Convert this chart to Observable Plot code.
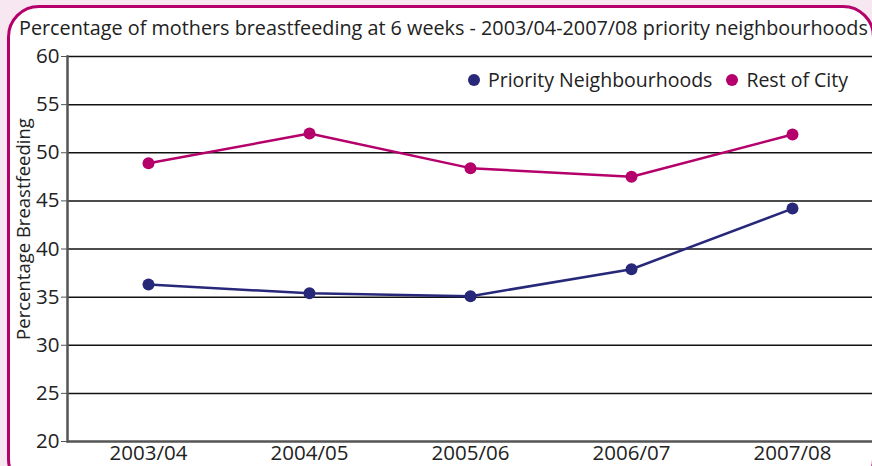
<!DOCTYPE html>
<html>
<head>
<meta charset="utf-8">
<script src="https://cdn.jsdelivr.net/npm/d3@7"></script>
<script src="https://cdn.jsdelivr.net/npm/@observablehq/plot@0.6"></script>
<style>
  html, body { margin: 0; padding: 0; }
  body { width: 872px; height: 466px; overflow: hidden; background: #f6e7f0; position: relative; font-family: "Open Sans", sans-serif; color: #222; }
  #frame { position: absolute; left: 7px; top: 5px; width: 862px; height: 480px; border: 3px solid #b5006b; border-radius: 32px; background: #fff; }
  #title { position: absolute; left: 19px; top: 14px; font-size: 19.8px; white-space: nowrap; color: #222; }
  #chart { position: absolute; left: 0; top: 0; }
  #legend { position: absolute; left: 468px; top: 66px; font-size: 19.5px; white-space: nowrap; display: flex; align-items: center; }
  .sw { display: inline-block; width: 12px; height: 12px; border-radius: 50%; margin-right: 8px; }
  .item { display: flex; align-items: center; margin-right: 14px; }
</style>
</head>
<body>
<div id="frame"></div>
<div id="title"></div>
<div id="chart"></div>
<div id="legend"></div>
<script>
const titleText = "Percentage of mothers breastfeeding at 6 weeks - 2003/04-2007/08 priority neighbourhoods";
const yLabel = "Percentage Breastfeeding";
const years = ["2003/04", "2004/05", "2005/06", "2006/07", "2007/08"];
const priority = [36.3, 35.4, 35.1, 37.9, 44.2];
const restOfCity = [48.9, 52.0, 48.4, 47.5, 51.9];
const seriesNames = ["Priority Neighbourhoods", "Rest of City"];
const seriesColors = ["#28287a", "#b5006b"];
const yTicks = [20, 25, 30, 35, 40, 45, 50, 55, 60];

const data = [
  ...years.map((y, i) => ({year: y, value: priority[i], series: seriesNames[0]})),
  ...years.map((y, i) => ({year: y, value: restOfCity[i], series: seriesNames[1]}))
];

document.getElementById("title").textContent = titleText;

const legend = document.getElementById("legend");
seriesNames.forEach((n, i) => {
  const it = document.createElement("span");
  it.className = "item";
  const sw = document.createElement("span");
  sw.className = "sw";
  sw.style.background = seriesColors[i];
  it.appendChild(sw);
  it.appendChild(document.createTextNode(n));
  legend.appendChild(it);
});

const chart = Plot.plot({
  width: 872,
  height: 466,
  marginLeft: 67,
  marginRight: 0,
  marginTop: 56,
  marginBottom: 25,
  style: {background: "transparent", fontFamily: "Open Sans, sans-serif", color: "#222", fontSize: "20px"},
  x: {type: "point", domain: years, padding: 0.5, label: null},
  y: {domain: [20, 60], label: null},
  color: {domain: seriesNames, range: seriesColors},
  marks: [
    Plot.ruleY(yTicks.filter(t => t > 20), {stroke: "#111", strokeWidth: 1.5}),
    Plot.ruleY([20], {stroke: "#555", strokeWidth: 2.5}),
    Plot.frame({anchor: "left", stroke: "#555", strokeWidth: 2.5}),
    Plot.axisY({ticks: yTicks, tickSize: 6, tickPadding: 2, fontSize: 20.5, stroke: "#555", label: null}),
    Plot.axisX({tickSize: 0, tickPadding: 4, fontSize: 20.5, label: null}),
    Plot.text([yLabel], {frameAnchor: "left", textAnchor: "middle", dx: -43, dy: -20, rotate: -90, fontSize: 18.5, fill: "#222"}),
    Plot.line(data, {x: "year", y: "value", z: "series", stroke: "series", strokeWidth: 2.5}),
    Plot.dot(data, {x: "year", y: "value", fill: "series", r: 6})
  ]
});
document.getElementById("chart").appendChild(chart);
</script>
</body>
</html>
